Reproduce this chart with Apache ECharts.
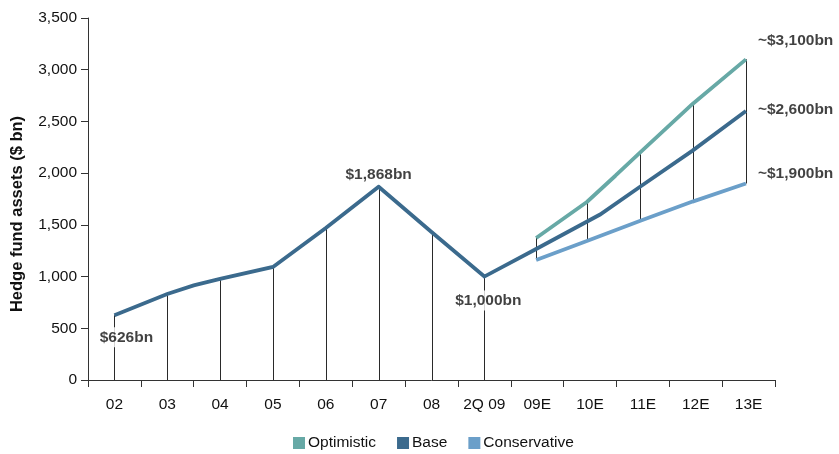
<!DOCTYPE html>
<html>
<head>
<meta charset="utf-8">
<script src="https://cdn.jsdelivr.net/npm/echarts@6/dist/echarts.min.js"></script>
<style>
  html, body { margin: 0; padding: 0; background: #fff; }
  #chart { width: 839px; height: 454px; }
</style>
</head>
<body>
<div id="chart"></div>
<script>
// Period labels along the bottom axis
const categories = ['02', '03', '04', '05', '06', '07', '08', '2Q 09', '09E', '10E', '11E', '12E', '13E'];

// Base scenario: x positions in period units (0.5 = centre of first period) and assets in $ bn
const basePos = [0.5, 1.5, 2.0, 2.5, 3.5, 4.5, 5.5, 6.5, 7.5, 8.48, 9.69, 10.44, 11.44, 12.45];
const baseValues = [626, 832, 915, 977, 1093, 1470, 1868, 1431, 1000, 1267, 1600, 1866, 2218, 2600];

// Optimistic scenario
const optPos = [8.48, 9.44, 9.98, 10.44, 11.44, 12.45];
const optValues = [1373, 1721, 1975, 2195, 2669, 3100];

// Conservative scenario
const consPos = [8.48, 9.44, 10.44, 11.44, 12.45];
const consValues = [1160, 1344, 1538, 1725, 1900];

// Drop lines: historical periods fall to zero, forecast periods span optimistic to conservative
const histDropPos = [0.5, 1.5, 2.5, 3.5, 4.5, 5.5, 6.5, 7.5];
const forecastDropPos = [8.48, 9.44, 10.44, 11.44, 12.45];

// Callouts
const calloutPos = [0.5, 5.5, 7.5, 12.45, 12.45, 12.45];
const calloutValues = [626, 1868, 1000, 3100, 2600, 1900];
const calloutApprox = [false, false, false, true, true, true];

const yTicks = [0, 500, 1000, 1500, 2000, 2500, 3000, 3500];

const COLORS = { opt: '#67a9a6', base: '#3b6a8d', cons: '#6b9fc9', drop: '#2a2a2a', text: '#111' };
const FONT = 'Liberation Sans, Arial, sans-serif';

function pairs(xs, ys) { return xs.map((x, i) => [x, ys[i]]); }

// Value of a polyline at x (linear between its vertices)
function valueAt(xs, ys, x) {
  for (let i = 0; i < xs.length - 1; i++) {
    if (x >= xs[i] && x <= xs[i + 1]) {
      const t = (x - xs[i]) / (xs[i + 1] - xs[i]);
      return ys[i] + t * (ys[i + 1] - ys[i]);
    }
  }
  return ys[xs.length - 1];
}

const dropData = histDropPos.map(p => [p, valueAt(basePos, baseValues, p), 0])
  .concat(forecastDropPos.map(p => [p, valueAt(optPos, optValues, p), valueAt(consPos, consValues, p)]));

const fmtThousands = v => String(v).replace(/\B(?=(\d{3})+(?!\d))/g, ',');

// Per-callout placement (offset from the point, alignment)
const calloutStyle = [
  { offset: [12, 22], align: 'center' },
  { offset: [0, -12], align: 'center' },
  { offset: [4, 24], align: 'center' },
  { offset: [11, -19], align: 'left' },
  { offset: [11, -1], align: 'left' },
  { offset: [11, -10], align: 'left' }
];

const calloutData = calloutPos.map((p, i) => ({
  value: [p, calloutValues[i]],
  label: {
    show: true,
    position: 'inside',
    offset: calloutStyle[i].offset,
    align: calloutStyle[i].align,
    formatter: (calloutApprox[i] ? '~' : '') + '$' + fmtThousands(calloutValues[i]) + 'bn'
  }
}));

const chart = echarts.init(document.getElementById('chart'), null, { renderer: 'canvas' });

const lineCommon = {
  type: 'line',
  xAxisIndex: 1,
  showSymbol: false,
  symbol: 'none',
  silent: true,
  animation: false
};

chart.setOption({
  animation: false,
  textStyle: { fontFamily: FONT },
  grid: { left: 88, right: 64, top: 18, bottom: 74, containLabel: false },
  legend: {
    data: ['Optimistic', 'Base', 'Conservative'],
    bottom: 3,
    left: 293,
    padding: 0,
    icon: 'rect',
    itemWidth: 12,
    itemHeight: 12,
    itemGap: 21,
    textStyle: { fontSize: 15.5, color: COLORS.text, fontFamily: FONT, padding: [0, 0, 0, -2] }
  },
  xAxis: [
    {
      type: 'category',
      data: categories,
      boundaryGap: true,
      axisLine: { lineStyle: { color: '#333', width: 1 } },
      axisTick: { show: true, interval: 0, length: 7, lineStyle: { color: '#333' } },
      axisLabel: { interval: 0, fontSize: 15.5, color: COLORS.text, margin: 17, fontFamily: FONT }
    },
    { type: 'value', min: 0, max: categories.length, show: false }
  ],
  yAxis: {
    type: 'value',
    min: yTicks[0],
    max: yTicks[yTicks.length - 1],
    interval: 500,
    name: 'Hedge fund assets ($ bn)',
    nameLocation: 'middle',
    nameGap: 62,
    nameTextStyle: { fontSize: 16.5, fontWeight: 'bold', color: COLORS.text, fontFamily: FONT, padding: [0, 30, 0, 0] },
    axisLine: { show: true, lineStyle: { color: '#333', width: 1 } },
    axisTick: { show: true, length: 7, lineStyle: { color: '#333' } },
    splitLine: { show: false },
    axisLabel: { fontSize: 15.5, color: COLORS.text, margin: 11, formatter: v => fmtThousands(v), fontFamily: FONT }
  },
  series: [
    {
      name: 'drops',
      type: 'custom',
      xAxisIndex: 1,
      silent: true,
      z: 1,
      data: dropData,
      renderItem: (params, api) => {
        const top = api.coord([api.value(0), api.value(1)]);
        const bottom = api.coord([api.value(0), api.value(2)]);
        const x = Math.round(top[0]) + 0.5;
        return {
          type: 'line',
          shape: { x1: x, y1: top[1], x2: x, y2: bottom[1] },
          style: { stroke: COLORS.drop, lineWidth: 1 }
        };
      }
    },
    Object.assign({}, lineCommon, {
      name: 'Conservative', z: 3, data: pairs(consPos, consValues),
      itemStyle: { color: COLORS.cons }, lineStyle: { color: COLORS.cons, width: 3.8 }
    }),
    Object.assign({}, lineCommon, {
      name: 'Optimistic', z: 3, data: pairs(optPos, optValues),
      itemStyle: { color: COLORS.opt }, lineStyle: { color: COLORS.opt, width: 3.8 }
    }),
    Object.assign({}, lineCommon, {
      name: 'Base', z: 4, data: pairs(basePos, baseValues),
      itemStyle: { color: COLORS.base }, lineStyle: { color: COLORS.base, width: 3.8, join: 'miter' }
    }),
    {
      name: 'callouts',
      type: 'scatter',
      xAxisIndex: 1,
      symbolSize: 0,
      silent: true,
      z: 10,
      data: calloutData,
      label: {
        fontSize: 15.5,
        fontWeight: 'bold',
        color: COLORS.text,
        fontFamily: FONT,
        verticalAlign: 'middle',
        backgroundColor: '#fff',
        padding: [2, 1]
      }
    }
  ]
});
</script>
</body>
</html>
